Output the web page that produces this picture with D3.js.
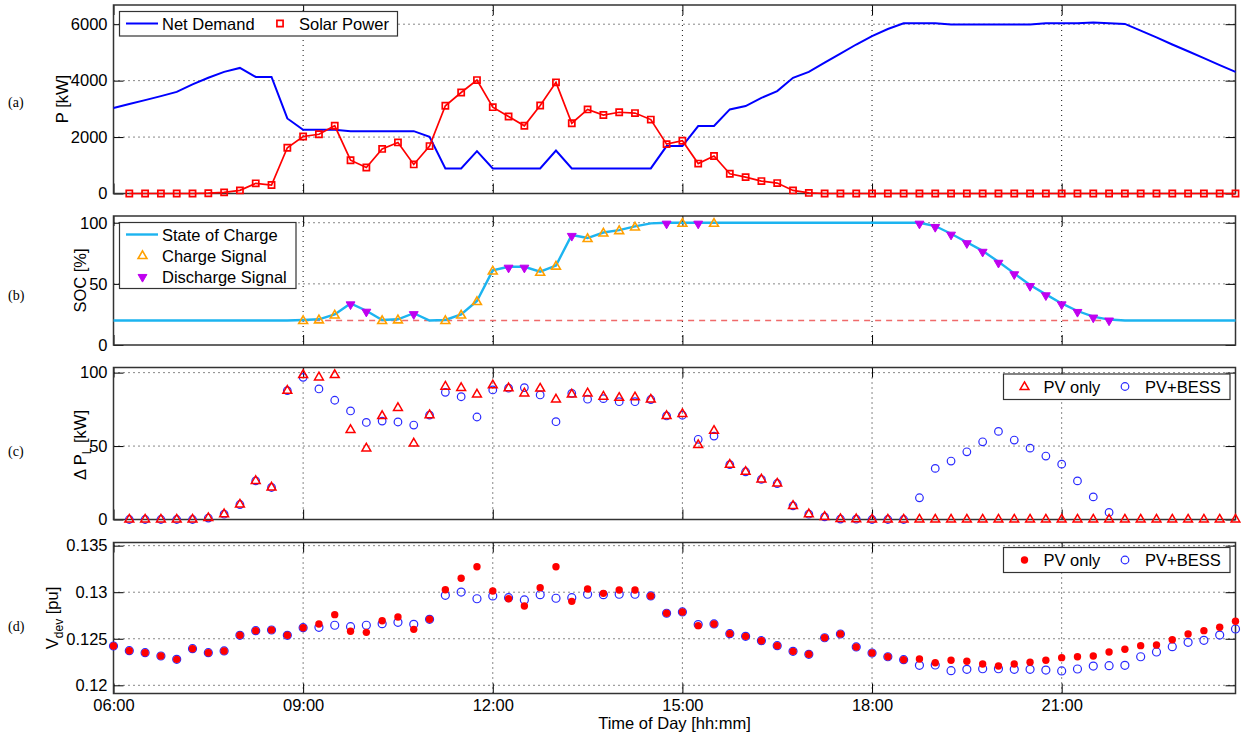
<!DOCTYPE html>
<html>
<head>
<meta charset="utf-8">
<script src="https://cdn.jsdelivr.net/npm/d3@7"></script>
<style>
body { margin: 0; background: #fff; }
svg text { font-family: Arial, "Liberation Sans", sans-serif; fill: #000; }
.tick text { font-size: 16.5px; }
.grid line { stroke: #111; stroke-width: 1; stroke-dasharray: 1,4; }
.box { fill: none; stroke: #333; stroke-width: 1.5; }
.legend rect { fill: #fff; stroke: #333; stroke-width: 1.2; }
.legend text { font-size: 16.5px; }
.plabel { font-family: "Liberation Serif", "Times New Roman", serif !important; font-size: 14px; }
</style>
</head>
<body>
<svg id="chart" width="1241" height="739"></svg>
<script>
// x categories: one sample every 15 minutes, 06:00 .. 23:45
const timeStart = "06:00";
const timeEnd = "23:45";
const tickLabels = ["06:00", "09:00", "12:00", "15:00", "18:00", "21:00"];

const pTicks = [0, 2000, 4000, 6000];
const socTicks = [0, 50, 100];
const dpTicks = [0, 50, 100];
const vTicks = [0.12, 0.125, 0.13, 0.135];

// (a) kW
const netDemand = [3030, 3170, 3310, 3450, 3600, 3870, 4100, 4310, 4450, 4130, 4130, 2660,
    2260, 2260, 2260, 2210, 2210, 2210, 2210, 2210, 2010, 890, 890, 1500,
    890, 890, 890, 890, 1520, 890, 890, 890, 890, 890, 890, 1680,
    1680, 2390, 2390, 2980, 3100, 3390, 3630, 4100, 4310, 4640, 4960, 5280,
    5580, 5830, 6030, 6030, 6030, 5990, 5990, 5990, 5990, 5990, 5990, 6030,
    6030, 6030, 6060, 6030, 6010, 5770, 5530, 5280, 5040, 4800, 4550, 4310];
const solarPower = [null, 0, 0, 0, 0, 0, 10, 40, 110, 360, 300, 1620,
    2020, 2100, 2400, 1180, 920, 1580, 1810, 1030, 1680, 3110, 3580, 4020,
    3060, 2730, 2400, 3120, 3940, 2490, 2980, 2780, 2880, 2850, 2620, 1750,
    1870, 1060, 1330, 700, 580, 440, 370, 110, 20, 0, 0, 0,
    0, 0, 0, 0, 0, 0, 0, 0, 0, 0, 0, 0,
    0, 0, 0, 0, 0, 0, 0, 0, 0, 0, 0, 0];

// (b) %
const soc = [20, 20, 20, 20, 20, 20, 20, 20, 20, 20, 20, 20,
    20.5, 21, 25, 34, 28, 20.5, 21, 26, 20, 20.5, 25, 36,
    61, 64, 64, 60, 65, 90, 87.5, 92, 94, 97, 99.5, 100,
    100, 100, 100, 100, 100, 100, 100, 100, 100, 100, 100, 100,
    100, 100, 100, 100, 97.3, 91, 84, 77, 68, 58.6, 49, 41.4,
    34, 27.8, 23.2, 20.8, 20, 20, 20, 20, 20, 20, 20, 20];
const chargeTimes = ["09:00", "09:15", "09:30", "10:15", "10:30", "11:15", "11:30", "11:45",
    "12:00", "12:45", "13:00", "13:30", "13:45", "14:00", "14:15", "15:00", "15:30"];
const dischargeTimes = ["09:45", "10:00", "10:45", "12:15", "12:30", "13:15", "14:45", "15:15",
    "18:45", "19:00", "19:15", "19:30", "19:45", "20:00", "20:15", "20:30", "20:45",
    "21:00", "21:15", "21:30", "21:45"];
const socMin = 20;
const socMinSpan = ["09:00", "21:45"];

// (c) kW
const dpPvOnly = [null, 0, 0, 0, 0, 0, 1, 3.6, 10.2, 26.3, 21.8, 87.7,
    98.4, 96.8, 98.4, 61, 48.4, 70.5, 76, 51.8, 71.1, 90.5, 89.6, 85.2,
    91.4, 89.4, 85.9, 89.2, 81.8, 85.2, 85.9, 83.7, 82.9, 83.2, 81.7, 70.5,
    71.8, 50.7, 60.4, 37.3, 32.5, 27.3, 24.5, 9.3, 3.6, 1.8, 0.3, 0.2,
    0, 0, 0, 0, 0, 0, 0, 0, 0, 0, 0, 0,
    0, 0, 0, 0, 0, 0, 0, 0, 0, 0, 0, 0];
const dpPvBess = [null, 0, 0, 0, 0, 0, 1, 3.6, 10.2, 26.3, 21.8, 87.7,
    96.8, 88.9, 81.2, 73.9, 66.1, 67, 66.4, 64.3, 71.1, 86.6, 83.6, 69.8,
    88.2, 89.4, 89.8, 84.8, 66.6, 85.9, 81.9, 82.3, 80.2, 80.2, 81.7, 70.5,
    71, 54.6, 56.8, 37.3, 32.5, 27.3, 24.5, 9.3, 3.6, 1.8, 0.3, 0.2,
    0, 0, 0, 14.8, 34.8, 39.8, 46.1, 52.9, 60, 54.1, 48.6, 43.2,
    37.7, 26.3, 15.4, 4.8, null, null, null, null, null, null, null, null];

// (d) pu
const vPvOnly = [0.12422, 0.12372, 0.12350, 0.12315, 0.12279, 0.12393, 0.12350, 0.12369, 0.12537, 0.12587, 0.12594, 0.12537,
    0.12619, 0.12659, 0.12759, 0.12580, 0.12569, 0.12694, 0.12734, 0.12601, 0.12709, 0.13027, 0.13150, 0.13274,
    0.13013, 0.12930, 0.12852, 0.13049, 0.13274, 0.12902, 0.13035, 0.12988, 0.13024, 0.13024, 0.12960, 0.12774,
    0.12788, 0.12641, 0.12659, 0.12555, 0.12526, 0.12479, 0.12426, 0.12365, 0.12333, 0.12511, 0.12551, 0.12412,
    0.12347, 0.12307, 0.12275, 0.12283, 0.12243, 0.12269, 0.12258, 0.12229, 0.12207, 0.12229, 0.12247, 0.12269,
    0.12297, 0.12307, 0.12315, 0.12358, 0.12387, 0.12426, 0.12433, 0.12490, 0.12551, 0.12587, 0.12623, 0.12688];
const vPvBess = [0.12422, 0.12372, 0.12350, 0.12315, 0.12279, 0.12393, 0.12350, 0.12369, 0.12537, 0.12587, 0.12594, 0.12537,
    0.12619, 0.12623, 0.12645, 0.12630, 0.12645, 0.12662, 0.12677, 0.12655, 0.12709, 0.12967, 0.13002, 0.12930,
    0.12960, 0.12941, 0.12917, 0.12974, 0.12935, 0.12941, 0.12978, 0.12974, 0.12978, 0.12978, 0.12960, 0.12774,
    0.12788, 0.12652, 0.12659, 0.12555, 0.12526, 0.12479, 0.12426, 0.12365, 0.12333, 0.12511, 0.12551, 0.12412,
    0.12347, 0.12307, 0.12275, 0.12215, 0.12218, 0.12157, 0.12172, 0.12178, 0.12178, 0.12172, 0.12172, 0.12164,
    0.12154, 0.12175, 0.12207, 0.12211, 0.12215, 0.12307, 0.12358, 0.12415, 0.12462, 0.12483, 0.12540, 0.12605];

const LEFT = 113.5;
const RIGHT = 1235.5;
const TICK = 10;

const parseTime = d3.timeParse("%H:%M");
const fmtTime = d3.timeFormat("%H:%M");
const times = d3.timeMinute.every(15).range(parseTime(timeStart), d3.timeMinute.offset(parseTime(timeEnd), 1));
const xTicks = tickLabels.map(parseTime);

const svg = d3.select("#chart");
const x = d3.scaleTime()
    .domain([parseTime(timeStart), parseTime(timeEnd)])
    .range([LEFT, RIGHT]);

var series = function(values) {
    return values.map((v, i) => ({t: times[i], v: v})).filter(d => d.v != null);
};
var pick = function(values, labels) {
    return labels.map(s => {
        let t = parseTime(s);
        let i = times.findIndex(d => +d === +t);
        return {t: t, v: values[i]};
    });
};

var makePanel = function(top, bottom, domain, ticks, fmt, showTime) {
    let y = d3.scaleLinear().domain(domain).range([bottom, top]);
    let g = svg.append("g");

    let grid = g.append("g").attr("class", "grid");
    grid.selectAll(".gx").data(xTicks.slice(1)).join("line")
        .attr("class", "gx")
        .attr("x1", d => x(d)).attr("x2", d => x(d))
        .attr("y1", top).attr("y2", bottom);
    grid.selectAll(".gy").data(ticks.filter(t => y(t) > top + 1 && y(t) < bottom - 1)).join("line")
        .attr("class", "gy")
        .attr("x1", LEFT).attr("x2", RIGHT)
        .attr("y1", d => y(d)).attr("y2", d => y(d));

    let clean = a => a.select(".domain").remove();
    g.append("g").attr("transform", `translate(${LEFT},0)`)
        .call(d3.axisLeft(y).tickValues(ticks).tickFormat(fmt).tickSize(-TICK).tickPadding(6)).call(clean);
    g.append("g").attr("transform", `translate(${RIGHT},0)`)
        .call(d3.axisRight(y).tickValues(ticks).tickFormat("").tickSize(-TICK)).call(clean);
    g.append("g").attr("transform", `translate(0,${top})`)
        .call(d3.axisTop(x).tickValues(xTicks).tickFormat("").tickSize(-TICK)).call(clean);
    g.append("g").attr("transform", `translate(0,${bottom})`)
        .call(d3.axisBottom(x).tickValues(xTicks).tickFormat(showTime ? fmtTime : "").tickSize(-TICK).tickPadding(6))
        .call(clean);

    g.append("rect").attr("class", "box")
        .attr("x", LEFT).attr("y", top)
        .attr("width", RIGHT - LEFT).attr("height", bottom - top);
    return {g: g, y: y};
};

var yLabel = function(bx, cy, main, sub, rest) {
    let t = svg.append("text")
        .attr("transform", `translate(${bx},${cy}) rotate(-90)`)
        .attr("text-anchor", "middle")
        .style("font-size", "16.5px");
    t.append("tspan").text(main);
    if (sub) {
        t.append("tspan").attr("dy", 5).style("font-size", "12px").text(sub);
        t.append("tspan").attr("dy", -5).text(rest);
    }
};

var panelLetter = function(y, s) {
    svg.append("text").attr("class", "plabel").attr("x", 8).attr("y", y).text(s);
};

const tri = d3.symbol().type(d3.symbolTriangle).size(34);
const square = d3.symbol().type(d3.symbolSquare).size(38);

// ---------- (a) power ----------
const pa = makePanel(5, 193.5, [0, 6680], pTicks, d3.format("d"), false);
const lineA = d3.line().x(d => x(d.t)).y(d => pa.y(d.v));
pa.g.append("path").attr("d", lineA(series(netDemand)))
    .attr("fill", "none").attr("stroke", "#0000ff").attr("stroke-width", 2);
pa.g.append("path").attr("d", lineA(series(solarPower)))
    .attr("fill", "none").attr("stroke", "#ff0000").attr("stroke-width", 1.7);
pa.g.selectAll(".sq").data(series(solarPower)).join("path")
    .attr("class", "sq")
    .attr("d", square)
    .attr("transform", d => `translate(${x(d.t)},${pa.y(d.v)})`)
    .attr("fill", "none").attr("stroke", "#ff0000").attr("stroke-width", 1.7);

let lgA = svg.append("g").attr("class", "legend");
lgA.append("rect").attr("x", 119.5).attr("y", 11.5).attr("width", 278).attr("height", 24.5);
lgA.append("line").attr("x1", 126).attr("x2", 158).attr("y1", 23.5).attr("y2", 23.5)
    .attr("stroke", "#0000ff").attr("stroke-width", 2);
lgA.append("text").attr("x", 162).attr("y", 29.5).text("Net Demand");
lgA.append("path").attr("d", square).attr("transform", "translate(280,23.5)")
    .attr("fill", "none").attr("stroke", "#ff0000").attr("stroke-width", 1.7);
lgA.append("text").attr("x", 299).attr("y", 29.5).text("Solar Power");

// ---------- (b) state of charge ----------
const pb = makePanel(216, 345, [0, 105.5], socTicks, d3.format("d"), false);
pb.g.append("line")
    .attr("x1", x(parseTime(socMinSpan[0]))).attr("x2", x(parseTime(socMinSpan[1])))
    .attr("y1", pb.y(socMin)).attr("y2", pb.y(socMin))
    .attr("stroke", "#f06a6a").attr("stroke-width", 1.5).attr("stroke-dasharray", "6,5");
const lineB = d3.line().x(d => x(d.t)).y(d => pb.y(d.v));
pb.g.append("path").attr("d", lineB(series(soc)))
    .attr("fill", "none").attr("stroke", "#1cb4f0").attr("stroke-width", 2.4);
pb.g.selectAll(".ch").data(pick(soc, chargeTimes)).join("path")
    .attr("class", "ch")
    .attr("d", tri)
    .attr("transform", d => `translate(${x(d.t)},${pb.y(d.v) + 1})`)
    .attr("fill", "none").attr("stroke", "#ffa000").attr("stroke-width", 1.6);
pb.g.selectAll(".dis").data(pick(soc, dischargeTimes)).join("path")
    .attr("class", "dis")
    .attr("d", tri)
    .attr("transform", d => `translate(${x(d.t)},${pb.y(d.v) + 1}) rotate(180)`)
    .attr("fill", "#c000f0").attr("stroke", "#c000f0").attr("stroke-width", 1);

let lgB = svg.append("g").attr("class", "legend");
lgB.append("rect").attr("x", 119.5).attr("y", 222.5).attr("width", 176.5).attr("height", 66);
lgB.append("line").attr("x1", 126).attr("x2", 158).attr("y1", 234.5).attr("y2", 234.5)
    .attr("stroke", "#1cb4f0").attr("stroke-width", 2.4);
lgB.append("text").attr("x", 162).attr("y", 240.5).text("State of Charge");
lgB.append("path").attr("d", tri).attr("transform", "translate(142.5,256)")
    .attr("fill", "none").attr("stroke", "#ffa000").attr("stroke-width", 1.6);
lgB.append("text").attr("x", 162).attr("y", 261.5).text("Charge Signal");
lgB.append("path").attr("d", tri).attr("transform", "translate(142.5,277) rotate(180)")
    .attr("fill", "#c000f0").attr("stroke", "#c000f0");
lgB.append("text").attr("x", 162).attr("y", 282.5).text("Discharge Signal");

// ---------- (c) line loss change ----------
const pc = makePanel(367.5, 519.5, [0, 103.5], dpTicks, d3.format("d"), false);
pc.g.selectAll(".cb").data(series(dpPvBess)).join("circle")
    .attr("class", "cb")
    .attr("cx", d => x(d.t)).attr("cy", d => pc.y(d.v)).attr("r", 3.8)
    .attr("fill", "none").attr("stroke", "#2a2aff").attr("stroke-width", 1.2);
pc.g.selectAll(".tp").data(series(dpPvOnly)).join("path")
    .attr("class", "tp")
    .attr("d", tri)
    .attr("transform", d => `translate(${x(d.t)},${pc.y(d.v)})`)
    .attr("fill", "none").attr("stroke", "#ff0000").attr("stroke-width", 1.5);

let lgC = svg.append("g").attr("class", "legend");
lgC.append("rect").attr("x", 1003.5).attr("y", 374).attr("width", 226.5).attr("height", 25.5);
lgC.append("path").attr("d", tri).attr("transform", "translate(1024.5,387)")
    .attr("fill", "none").attr("stroke", "#ff0000").attr("stroke-width", 1.5);
lgC.append("text").attr("x", 1043.5).attr("y", 392.5).text("PV only");
lgC.append("circle").attr("cx", 1125).attr("cy", 386.5).attr("r", 3.8)
    .attr("fill", "none").attr("stroke", "#2a2aff").attr("stroke-width", 1.2);
lgC.append("text").attr("x", 1145).attr("y", 392.5).text("PV+BESS");

// ---------- (d) voltage deviation ----------
const pd = makePanel(542.5, 693.5, [0.11912, 0.13534], vTicks, d => String(d), true);
pd.g.selectAll(".vb").data(series(vPvBess)).join("circle")
    .attr("class", "vb")
    .attr("cx", d => x(d.t)).attr("cy", d => pd.y(d.v)).attr("r", 4)
    .attr("fill", "none").attr("stroke", "#2a2aff").attr("stroke-width", 1.2);
pd.g.selectAll(".vp").data(series(vPvOnly)).join("circle")
    .attr("class", "vp")
    .attr("cx", d => x(d.t)).attr("cy", d => pd.y(d.v)).attr("r", 3.7)
    .attr("fill", "#ff0000");

let lgD = svg.append("g").attr("class", "legend");
lgD.append("rect").attr("x", 1003.5).attr("y", 547.5).attr("width", 226.5).attr("height", 25);
lgD.append("circle").attr("cx", 1024.5).attr("cy", 560).attr("r", 3.7).attr("fill", "#ff0000");
lgD.append("text").attr("x", 1043.5).attr("y", 566).text("PV only");
lgD.append("circle").attr("cx", 1125).attr("cy", 560).attr("r", 3.8)
    .attr("fill", "none").attr("stroke", "#2a2aff").attr("stroke-width", 1.2);
lgD.append("text").attr("x", 1145).attr("y", 566).text("PV+BESS");

// ---------- labels ----------
yLabel(68, 99, "P [kW]");
yLabel(86, 280.5, "SOC [%]");
yLabel(86, 445, "\u0394 P", "L", " [kW]");
yLabel(58, 618, "V", "dev", " [pu]");

panelLetter(107, "(a)");
panelLetter(300, "(b)");
panelLetter(456, "(c)");
panelLetter(631, "(d)");

svg.append("text")
    .attr("x", (LEFT + RIGHT) / 2).attr("y", 729)
    .attr("text-anchor", "middle")
    .style("font-size", "16.5px")
    .text("Time of Day [hh:mm]");
</script>
</body>
</html>
